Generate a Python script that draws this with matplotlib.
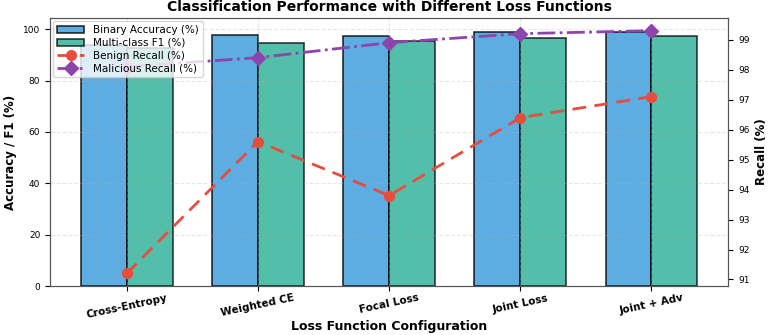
import numpy as np
import matplotlib

matplotlib.use("Agg")

import matplotlib.pyplot as plt

# values
configs = ["Cross-Entropy", "Weighted CE", "Focal Loss", "Joint Loss", "Joint + Adv"]
binary_acc = [94.0, 97.9, 97.4, 98.8, 98.9]
multiclass_f1 = [92.6, 94.7, 95.3, 96.5, 97.2]
benign_recall = [91.2, 95.6, 93.8, 96.4, 97.1]
malicious_recall = [98.1, 98.4, 98.9, 99.2, 99.3]

x = np.arange(len(configs))
width = 0.35

fig, ax = plt.subplots(figsize=(7.69, 3.35), dpi=100)
fig.subplots_adjust(left=0.065, right=0.947, bottom=0.146, top=0.946)

b1 = ax.bar(x - width / 2, binary_acc, width, color="#3498db", alpha=0.8,
            edgecolor="black", linewidth=1.2, label="Binary Accuracy (%)")
b2 = ax.bar(x + width / 2, multiclass_f1, width, color="#1aa88c", alpha=0.75,
            edgecolor="black", linewidth=1.2, label="Multi-class F1 (%)")

ax.set_ylim(0, 104.3)
ax.set_ylabel("Accuracy / F1 (%)", fontsize=8.5, fontweight="bold")
ax.set_xlabel("Loss Function Configuration", fontsize=9, fontweight="bold",
              labelpad=0)
ax.set_xticks(x)
ax.set_xticklabels(configs, rotation=12, fontsize=7.5, fontweight="bold")
ax.tick_params(axis="y", labelsize=6.5)
ax.tick_params(axis="x", pad=1.5)
ax.grid(True, linestyle="--", alpha=0.3)

ax2 = ax.twinx()
l1, = ax2.plot(x, benign_recall, "o--", color="#e74c3c", linewidth=2,
               markersize=7, dashes=(5, 3), label="Benign Recall (%)")
l2, = ax2.plot(x, malicious_recall, "D-.", color="#8e44ad", linewidth=2,
               markersize=7, label="Malicious Recall (%)")
ax2.set_ylim(90.78, 99.72)
ax2.set_ylabel("Recall (%)", fontsize=8.5, fontweight="bold")
ax2.tick_params(axis="y", labelsize=6.5)

for a in (ax, ax2):
    for s in a.spines.values():
        s.set_color("#555555")

handles = [b1, b2, l1, l2]
ax2.legend(handles, [h.get_label() for h in handles], loc="upper left",
           fontsize=7.5, framealpha=0.8, labelspacing=0.25,
           borderaxespad=0.3, handlelength=2.6)

ax.set_title("Classification Performance with Different Loss Functions",
             fontsize=10, fontweight="bold", pad=5)

fig.savefig("out.png")
